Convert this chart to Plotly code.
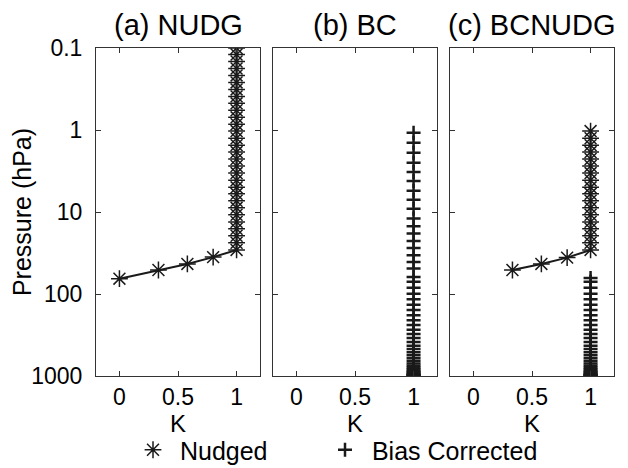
import plotly.graph_objects as go

# ---- data ----
# Nudging coefficient profile (panel a): x value, pressure (hPa)
nudg_k_a = [0.0, 0.333, 0.58, 0.8, 1, 1, 1, 1, 1, 1, 1, 1, 1, 1, 1, 1, 1, 1, 1, 1, 1, 1, 1,
            1, 1, 1, 1, 1, 1, 1, 1, 1, 1, 1]
nudg_p_a = [65, 51, 43, 35.5, 29, 23.7, 19.5, 16, 13.2, 10.8, 8.9, 7.3, 6.0, 5.0, 4.1, 3.35,
            2.75, 2.26, 1.86, 1.53, 1.26, 1.03, 0.85, 0.70, 0.575, 0.473, 0.389, 0.32, 0.263,
            0.216, 0.178, 0.146, 0.12, 0.1]

# Bias-corrected levels (panel b)
bc_p_b = [1.08, 1.43, 1.89, 2.5, 3.25, 4.2, 5.5, 7.1, 9.1, 12.0, 14.9, 18.3, 22.5, 27.5, 33.7,
          40.7, 49, 62, 71, 84, 99, 116, 135, 157, 182, 209, 239, 272, 308, 344, 385, 427,
          469, 515, 560, 609, 656, 706, 750, 795, 835, 870, 900, 925, 950, 970, 985, 995, 1000]
bc_k_b = [1] * len(bc_p_b)

# Panel c: nudged
nudg_k_c = [0.333, 0.58, 0.8, 1, 1, 1, 1, 1, 1, 1, 1, 1, 1, 1, 1, 1, 1, 1, 1, 1, 1]
nudg_p_c = [51, 43, 36, 29, 23.7, 19.5, 16, 13.2, 10.8, 8.9, 7.3, 6.0, 5.0, 4.1, 3.35,
            2.75, 2.26, 1.86, 1.53, 1.26, 1.03]
# Panel c: bias corrected
bc_p_c = [64, 71, 84, 99, 116, 135, 157, 182, 209, 239, 272, 308, 344, 385, 427,
          469, 515, 560, 609, 656, 706, 750, 795, 835, 870, 900, 925, 950, 970, 985, 995, 1000]
bc_k_c = [1] * len(bc_p_c)

titles = ["(a) NUDG", "(b) BC", "(c) BCNUDG"]
x_ticks = [0, 0.5, 1]
x_ticktext = ["0", "0.5", "1"]
y_ticks = [0.1, 1, 10, 100, 1000]
y_ticktext = ["0.1", "1", "10", "100", "1000"]

FONT = "Liberation Sans, Arial, Helvetica, sans-serif"
INK = "#1a1a1a"

# The page body adds an 8px offset; figure coordinates are window coordinates minus 8.
OFF = 8
W, H = 620, 460
L, T = 96 - OFF, 48 - OFF
R = W - (614 - OFF)
B = H - (376 - OFF)
plot_w = W - L - R
plot_h = H - T - B
domains_px = [(96, 260), (273, 437), (450, 614)]
domains = [((a - 96) / plot_w, (b - 96) / plot_w) for a, b in domains_px]

fig = go.Figure()

ast = dict(symbol="asterisk-open", size=14, color=INK, line=dict(color=INK, width=1.5))
plus = dict(symbol="cross-thin-open", size=10, color=INK, line=dict(color=INK, width=2.5))

# Panel a
fig.add_trace(go.Scatter(x=nudg_k_a, y=nudg_p_a, mode="lines+markers", name="Nudged",
                         line=dict(color=INK, width=2), marker=ast, xaxis="x", yaxis="y",
                         showlegend=False))
# Panel b
fig.add_trace(go.Scatter(x=bc_k_b, y=bc_p_b, mode="markers", name="Bias Corrected",
                         marker=plus, xaxis="x2", yaxis="y2", showlegend=False))
# Panel c
fig.add_trace(go.Scatter(x=nudg_k_c, y=nudg_p_c, mode="lines+markers", name="Nudged",
                         line=dict(color=INK, width=2), marker=ast, xaxis="x3", yaxis="y3",
                         showlegend=False))
fig.add_trace(go.Scatter(x=bc_k_c, y=bc_p_c, mode="markers", name="Bias Corrected",
                         marker=plus, xaxis="x3", yaxis="y3", showlegend=False))

# Legend entries (two independent legends so each can be placed like the reference)
fig.add_trace(go.Scatter(x=[None], y=[None], mode="markers", name="\u00a0Nudged", marker=ast,
                         xaxis="x", yaxis="y", showlegend=True, legend="legend"))
fig.add_trace(go.Scatter(x=[None], y=[None], mode="markers", name="\u00a0Bias Corrected",
                         marker=plus, xaxis="x", yaxis="y", showlegend=True, legend="legend2"))

axis_common = dict(showgrid=False, zeroline=False, showline=True, linecolor="#333333",
                   linewidth=1, mirror="ticks", ticks="inside", ticklen=5,
                   tickcolor="#333333", tickwidth=1, automargin=False,
                   tickfont=dict(family=FONT, size=23, color="black"))

leg_y = -(450 - 376) / plot_h
leg_common = dict(orientation="h", xanchor="left", y=leg_y, yanchor="middle",
                  font=dict(family=FONT, size=25, color="black"),
                  bgcolor="rgba(0,0,0,0)")

layout = dict(width=W, height=H, margin=dict(l=L, r=R, t=T, b=B, autoexpand=False),
              plot_bgcolor="white", paper_bgcolor="white",
              font=dict(family=FONT, size=23, color="black"),
              legend=dict(leg_common, x=(133 - 96) / plot_w),
              legend2=dict(leg_common, x=(325 - 96) / plot_w),
              annotations=[])

for i, (d, t) in enumerate(zip(domains, titles)):
    sx = "" if i == 0 else str(i + 1)
    layout["xaxis" + sx] = dict(axis_common, domain=list(d), range=[-0.2, 1.2],
                                tickvals=x_ticks, ticktext=x_ticktext,
                                ticklabelstandoff=0,
                                title=dict(text="K", standoff=6,
                                           font=dict(family=FONT, size=24, color="black")),
                                anchor="y" + sx)
    layout["yaxis" + sx] = dict(axis_common, type="log", range=[3, -1],
                                tickvals=y_ticks, ticktext=y_ticktext,
                                showticklabels=(i == 0), ticklabelstandoff=8,
                                anchor="x" + sx, domain=[0, 1])
    layout["annotations"].append(dict(text=t, x=(d[0] + d[1]) / 2, xref="paper", xanchor="center",
                                      y=1.0, yref="paper", yanchor="middle", yshift=23,
                                      showarrow=False,
                                      font=dict(family=FONT, size=29, color="black")))

layout["yaxis"]["title"] = dict(text="Pressure (hPa)", standoff=3,
                                font=dict(family=FONT, size=25, color="black"))

fig.update_layout(**layout)
fig.write_html("out.html")
